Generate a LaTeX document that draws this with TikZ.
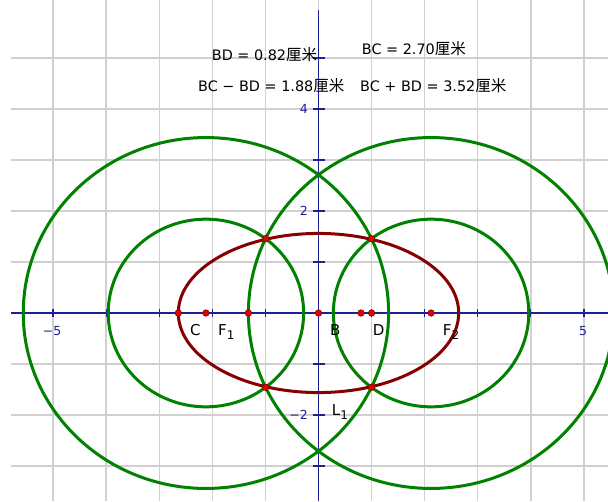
\documentclass[tikz,border=0pt]{standalone}
\usepackage{fontspec}
\setmainfont{DejaVu Sans}
\newfontfamily\cjkfont{Noto Sans CJK SC}
\definecolor{gridgray}{RGB}{208,208,208}
\definecolor{axisblue}{RGB}{30,30,150}
\definecolor{circgreen}{RGB}{0,130,0}
\definecolor{ellred}{RGB}{135,0,0}
\definecolor{dotred}{RGB}{230,0,0}
\newcommand{\cm}{{\cjkfont\fontsize{15.5}{16}\selectfont 厘米}}
\newcommand{\sub}[1]{\raisebox{-4.5pt}{\fontsize{12}{12}\selectfont #1}}
\begin{document}
\begin{tikzpicture}[x=1pt,y=-1pt,
  gridline/.style={gridgray,line width=1.3pt},
  axisline/.style={axisblue,line width=1.1pt},
  greencirc/.style={circgreen,line width=3pt},
  redell/.style={ellred,line width=3pt},
  ptdot/.style={circle,fill=dotred,draw=ellred,line width=0.6pt,inner sep=0pt,minimum size=6.5pt},
  measure/.style={font=\fontsize{14.4}{16}\selectfont,inner sep=0pt,anchor=base west},
  ptlabel/.style={font=\fontsize{15}{17}\selectfont,inner sep=0pt,anchor=base west},
  ticklabel/.style={text=axisblue,font=\fontsize{12.5}{14}\selectfont,inner sep=0pt}]
\useasboundingbox (0,0) rectangle (608,501);
\fill[white] (0,0) rectangle (608,501);
\begin{scope}[shift={(318.5,313)},x=53.1pt,y=51pt]
  % grid
  \foreach \k in {-5,...,5} \draw[gridline] (\k,6.137) -- (\k,-3.686);
  \foreach \k in {-3,...,5} \draw[gridline] (-5.791,\k) -- (5.452,\k);
  % axes
  \coordinate (xl) at (-5.791,0);
  \coordinate (xr) at (5.452,0);
  \coordinate (yt) at (0,5.94);
  \coordinate (yb) at (0,-3.686);
  \draw[axisline] (xl) -- (xr);
  \draw[axisline] (yt) -- (yb);
  \foreach \k in {-5,...,5} \draw[axisline] (\k,0) ++(0pt,4pt) -- ++(0pt,-8pt);
  \foreach \k in {-3,...,5} \draw[axisline] (0,\k) ++(-6pt,0pt) -- ++(12pt,0pt);
  % circles
  \draw[greencirc] (-2.12,0) circle[radius=1.84];
  \draw[greencirc] (2.12,0) circle[radius=1.84];
  \draw[greencirc] (-2.12,0) circle[radius=3.44];
  \draw[greencirc] (2.12,0) circle[radius=3.44];
  % ellipse
  \draw[redell] (0,0) ellipse[x radius=2.64, y radius=1.56];
  % points
  \node[ptdot] (C) at (-2.64,0) {};
  \node[ptdot] (F1) at (-2.12,0) {};
  \node[ptdot] (P1) at (-1.32,0) {};
  \node[ptdot] (B) at (0,0) {};
  \node[ptdot] (P2) at (0.80,0) {};
  \node[ptdot] (D) at (1.0,0) {};
  \node[ptdot] (F2) at (2.12,0) {};
  \node[ptdot] (I1) at (-0.996,1.457) {};
  \node[ptdot] (I2) at (0.996,1.457) {};
  \node[ptdot] (I3) at (-0.996,-1.457) {};
  \node[ptdot] (I4) at (0.996,-1.457) {};
\end{scope}
% tick labels
\node[ticklabel] (tm5) at (52,331) {−5};
\node[ticklabel] (t5) at (583,331) {5};
\node[ticklabel,anchor=east] (t2) at (308,211) {2};
\node[ticklabel,anchor=east] (t4) at (308,109) {4};
\node[ticklabel,anchor=east] (tm2) at (308,415) {−2};
% point labels
\node[ptlabel] (lC) at (190,335) {C};
\node[ptlabel] (lF1) at (218,335) {F\sub{1}};
\node[ptlabel] (lB) at (330,335) {B};
\node[ptlabel] (lD) at (372.7,335) {D};
\node[ptlabel] (lF2) at (442.7,335) {F\sub{2}};
\node[ptlabel] (lL1) at (331.7,415) {L\sub{1}};
% measurements
\node[measure] (mBD) at (211.7,60) {BD = 0.82\cm};
\node[measure] (mBC) at (361.7,54) {BC = 2.70\cm};
\node[measure] (mDiff) at (198,91.7) {BC − BD = 1.88\cm};
\node[measure] (mSum) at (360,91.7) {BC + BD = 3.52\cm};
\end{tikzpicture}
\end{document}
